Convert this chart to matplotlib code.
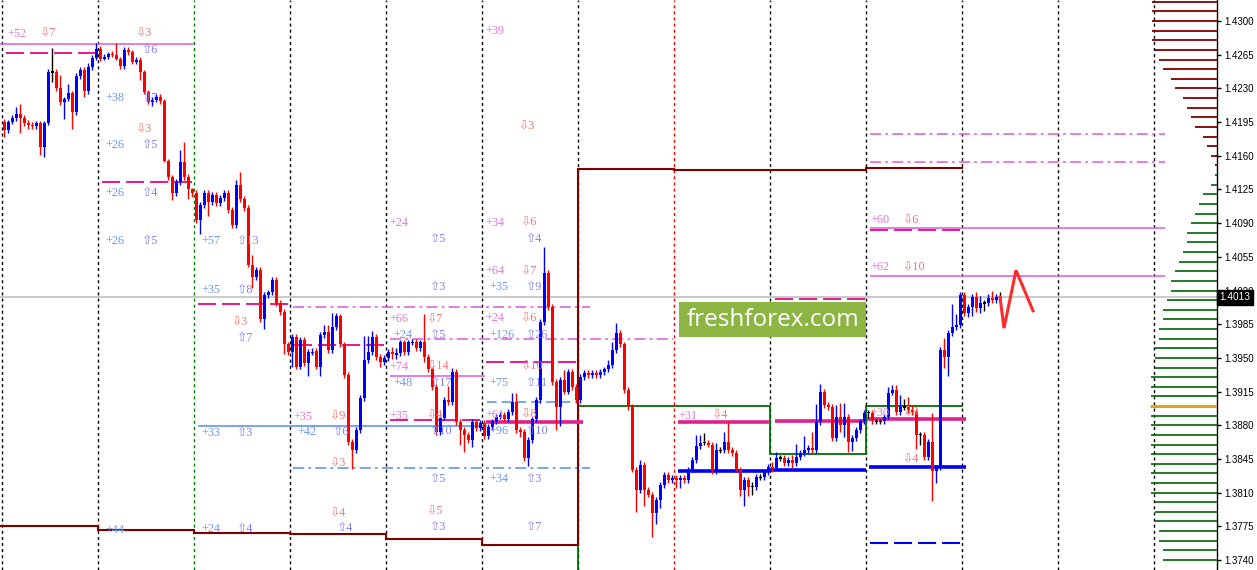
import matplotlib
matplotlib.use("Agg")
import matplotlib.pyplot as plt
import matplotlib.transforms as mtransforms
from matplotlib.patches import Rectangle
import numpy as np

plt.rcParams['lines.scale_dashes'] = False

# ---------------- data (prices in pips: 1/10000) ----------------
first_open = 14195
close_pips = [
    14187, 14195, 14199, 14203, 14199, 14194, 14192, 14191, 14194, 14169, 14194, 14247,
    14247, 14230, 14216, 14219, 14225, 14205, 14243, 14249, 14227, 14252, 14262, 14271,
    14261, 14263, 14266, 14265, 14261, 14253, 14270, 14268, 14257, 14260, 14247, 14226,
    14216, 14218, 14221, 14217, 14155, 14138, 14121, 14133, 14154, 14138, 14125, 14121,
    14093, 14109, 14121, 14112, 14119, 14111, 14116, 14121, 14104, 14088, 14130, 14115,
    14106, 14047, 14034, 14041, 13990, 14015, 14018, 14031, 14007, 13998, 13964, 13956,
    13972, 13941, 13969, 13945, 13956, 13957, 13941, 13974, 13977, 13958, 13982, 13993,
    13964, 13932, 13863, 13854, 13875, 13908, 13948, 13956, 13972, 13951, 13946, 13950,
    13956, 13954, 13955, 13966, 13956, 13966, 13967, 13960, 13966, 13951, 13938, 13920,
    13873, 13888, 13906, 13904, 13935, 13883, 13875, 13870, 13865, 13883, 13877, 13882,
    13869, 13878, 13884, 13889, 13891, 13886, 13894, 13904, 13875, 13873, 13846, 13865,
    13886, 13906, 13987, 14038, 14003, 13925, 13899, 13927, 13915, 13935, 13920, 13906,
    13930, 13934, 13932, 13934, 13932, 13935, 13938, 13943, 13958, 13976, 13964, 13917,
    13899, 13834, 13813, 13839, 13813, 13808, 13789, 13802, 13818, 13828, 13823, 13825,
    13823, 13825, 13823, 13834, 13844, 13858, 13862, 13862, 13860, 13832, 13854, 13854,
    13863, 13854, 13851, 13834, 13813, 13823, 13816, 13816, 13826, 13826, 13831, 13837,
    13836, 13846, 13846, 13841, 13844, 13841, 13847, 13851, 13854, 13856, 13854, 13883,
    13915, 13901, 13899, 13867, 13889, 13880, 13889, 13863, 13867, 13875, 13884, 13893,
    13893, 13884, 13884, 13884, 13889, 13914, 13917, 13894, 13899, 13899, 13896, 13894,
    13870, 13870, 13847, 13863, 13832, 13836, 13958, 13951, 13976, 13982, 13984, 14015,
    13997, 14003, 14013, 14002, 14007, 14007, 14012, 14010, 14013, 14013,
]
wick_up = [
    3, 2, 3, 8, 11, 3, 3, 3, 2, 2, 2, 3, 25, 3, 14, 2, 10, 2, 3, 3, 3, 4, 3, 6,
    3, 3, 2, 3, 12, 2, 3, 3, 2, 3, 3, 2, 2, 3, 3, 3, 2, 2, 2, 3, 12, 20, 3, 2,
    3, 3, 3, 3, 3, 3, 3, 3, 3, 3, 5, 13, 3, 3, 10, 3, 3, 3, 3, 3, 3, 3, 3, 3,
    3, 3, 3, 3, 3, 3, 3, 3, 7, 7, 15, 4, 3, 3, 3, 3, 3, 3, 25, 17, 6, 3, 3, 3,
    3, 5, 5, 3, 3, 3, 3, 3, 3, 30, 3, 3, 3, 3, 3, 15, 4, 3, 3, 3, 3, 3, 3, 3,
    3, 3, 3, 3, 3, 3, 3, 9, 9, 3, 3, 3, 3, 3, 3, 27, 3, 3, 3, 3, 10, 3, 3, 3,
    3, 3, 3, 3, 3, 3, 3, 5, 8, 10, 3, 3, 3, 3, 3, 5, 3, 3, 3, 3, 3, 3, 3, 3,
    3, 3, 3, 3, 3, 12, 8, 10, 3, 3, 8, 3, 10, 20, 3, 3, 3, 3, 3, 5, 3, 3, 3, 3,
    5, 6, 3, 3, 3, 5, 14, 3, 15, 3, 17, 19, 8, 3, 3, 3, 12, 14, 14, 3, 3, 3, 3, 3,
    3, 3, 3, 3, 3, 6, 5, 5, 12, 8, 10, 5, 3, 3, 3, 3, 30, 3, 3, 13, 3, 24, 12, 3,
    3, 3, 3, 5, 7, 3, 4, 7, 3, 5,
]
wick_dn = [
    7, 3, 2, 3, 15, 3, 4, 3, 3, 8, 10, 2, 10, 3, 3, 18, 2, 17, 3, 3, 6, 3, 3, 2,
    3, 2, 2, 2, 2, 3, 3, 3, 2, 2, 8, 2, 2, 4, 2, 3, 2, 3, 7, 3, 3, 3, 10, 4,
    3, 14, 3, 15, 3, 3, 3, 3, 3, 3, 3, 3, 3, 3, 11, 3, 3, 10, 3, 3, 3, 3, 10, 3,
    15, 3, 3, 3, 14, 3, 3, 10, 3, 3, 3, 3, 3, 3, 3, 19, 3, 3, 3, 3, 3, 3, 5, 3,
    3, 5, 5, 3, 3, 3, 3, 3, 3, 5, 3, 3, 3, 3, 3, 3, 3, 3, 15, 18, 3, 8, 3, 3,
    3, 3, 3, 3, 3, 3, 3, 3, 3, 5, 3, 8, 3, 3, 3, 3, 3, 3, 24, 20, 3, 3, 3, 3,
    3, 3, 3, 3, 3, 3, 3, 3, 3, 3, 3, 3, 3, 3, 23, 3, 17, 3, 25, 12, 8, 3, 3, 3,
    8, 8, 3, 3, 3, 3, 3, 3, 3, 3, 3, 3, 3, 3, 3, 3, 7, 17, 10, 8, 3, 3, 3, 3,
    5, 3, 3, 3, 3, 5, 3, 3, 3, 3, 3, 3, 3, 3, 3, 3, 3, 7, 12, 11, 10, 3, 3, 3,
    5, 3, 3, 3, 3, 3, 3, 3, 3, 3, 3, 3, 15, 10, 3, 3, 31, 12, 3, 11, 20, 3, 3, 3,
    3, 5, 10, 4, 5, 8, 3, 3, 3, 5,
]

forecast_bar = [249, 250, 253, 257.25]
forecast_pips = [14013, 13981, 14041, 13999]

bid_price = 1.4013
y_ticks = [1.4300, 1.4265, 1.4230, 1.4195, 1.4160, 1.4125, 1.4090, 1.4055, 1.4020,
           1.3985, 1.3950, 1.3915, 1.3880, 1.3845, 1.3810, 1.3775, 1.3740]

# daily step levels
maroon_levels = [13775, 13771, 13768, 13767, 13762, 13756, 14146, 14145, 14145, 14147]
green_levels = [13700, 13900, 13900, 13850, 13900]   # days 5..9
green_first_day = 5

# horizontal level segments (pips, start bar, end bar)
orchid_solid_p = [14276, 13931, 14085, 14035]
orchid_solid_a = [-1, 96.5, 216.5, 216.5]
orchid_solid_b = [47.5, 120.25, 290.25, 290.25]
orchid_dd_p = [14003, 13970, 14183, 14154]
orchid_dd_a = [72.25, 96.5, 216.5, 216.5]
orchid_dd_b = [146.5, 167.25, 290.25, 290.25]
pink_dash_p = [14267, 14133, 14006, 13963, 13885, 13946, 14011, 14083]
pink_dash_a = [0.5, 24.5, 48.5, 72.5, 96.5, 120.5, 192.75, 216.5]
pink_dash_b = [23, 47, 71.5, 95, 119, 143.5, 215.5, 239]
magenta_p = [13883, 13883, 13884, 13886]
magenta_a = [120.5, 168.5, 192.75, 215.75]
magenta_b = [144.75, 191.5, 215.5, 240.5]
blue_p = [13832, 13834, 13837]
blue_a = [168.5, 191.5, 216.25]
blue_b = [191.5, 215.5, 240.5]
blue_dash_p = [13758]
blue_dash_a = [216.5]
blue_dash_b = [239]
cf_solid_p, cf_solid_a, cf_solid_b = [13879], [48.5], [120.75]
cf_dd_p, cf_dd_a, cf_dd_b = [13836], [72.25], [146.5]
cf_dash_p, cf_dash_a, cf_dash_b = [13904], [120.75], [143.5]

# volume profile (price levels 1.4320 .. 1.3740 every 10 pips)
profile_volume = [65, 65, 65, 65, 65, 62, 58, 54, 46, 42, 34, 30, 26, 22, 14, 10, 6, 2,
                  2, 6, 14, 18, 22, 26, 30, 30, 34, 38, 42, 46, 46, 50, 54, 54, 58, 58,
                  62, 62, 62, 66, 66, 66, 67, 66, 66, 66, 66, 66, 66, 66, 66, 66,
                  62, 62, 62, 58, 58, 54, 54]
profile_sell_count = 18
profile_poc = 1.3900

# labels
lbl_bar = [0.75, 9, 33, 34.5, 25.25, 34.5, 33, 25.25, 34.5, 25.25, 34.5, 25.25, 34.5,
           49.25, 58.25, 49.25, 58.25, 57, 58.25, 96.25, 106.5, 106.5, 120.25, 128.75,
           120.25, 129.25, 130.5, 120.25, 129.25, 121.25, 130.5, 96.25, 105.75, 97.25,
           106.5, 120.25, 129.25, 121.25, 130.5, 129.25, 96.25, 105.75, 97.25, 106.5,
           121.25, 130.5, 72.25, 81.5, 73.25, 82.25, 81.5, 49.25, 58.25, 96.25, 105.75,
           106.5, 120.25, 129.25, 121.25, 130.5, 106.5, 121.25, 130.5, 81.5, 83.25,
           105.75, 106.5, 130.5, 25.25, 49.25, 58.25, 168.5, 177, 216.5, 224.75, 224.75,
           216.5, 224.75, 216.5, 224.75]
lbl_pips = [14287, 14287, 14287, 14270, 14220, 14220, 14187, 14171, 14171, 14121, 14121,
            14071, 14071, 14071, 14071, 14021, 14021, 13987, 13971, 14090, 14074, 14024,
            14290, 14190, 14090, 14090, 14074, 14040, 14040, 14024, 14024, 13990, 13990,
            13974, 13974, 13991, 13991, 13974, 13974, 13941, 13941, 13941, 13924, 13924,
            13924, 13924, 13889, 13889, 13873, 13873, 13840, 13872, 13872, 13890, 13890,
            13874, 13891, 13891, 13874, 13874, 13824, 13824, 13824, 13788, 13773, 13790,
            13774, 13774, 13771, 13772, 13772, 13890, 13890, 13893, 13893, 13844, 14093,
            14093, 14044, 14044]
lbl_text = ["+52", "⇩7", "⇩3", "⇧6", "+38", "⇧7", "⇩3", "+26", "⇧5", "+26", "⇧4",
            "+26", "⇧5", "+57", "⇧13", "+35", "⇧8", "⇩3", "⇧7", "+24", "⇧5", "⇧3",
            "+39", "⇩3", "+34", "⇩6", "⇧4", "+64", "⇩7", "+35", "⇧9", "+66", "⇩7",
            "+24", "⇧5", "+24", "⇩6", "+126", "⇧26", "⇩10", "+74", "⇩14", "+48", "⇧17",
            "+75", "⇧11", "+35", "⇩9", "+42", "⇧6", "⇩3", "+33", "⇧3", "+35", "⇩4",
            "⇧10", "+61", "⇩8", "+96", "⇧10", "⇧5", "+34", "⇧3", "⇩4", "⇧4", "⇩5",
            "⇧3", "⇧7", "+44", "+24", "⇧4", "+31", "⇩4", "+30", "⇩9", "⇩4", "+60",
            "⇩6", "+62", "⇩10"]
lbl_kind = ["p", "d", "d", "u", "b", "u", "d", "b", "u", "b", "u", "b", "u", "b", "u",
            "b", "u", "d", "u", "p", "u", "u", "p", "d", "p", "d", "u", "p", "d", "b",
            "u", "p", "d", "b", "u", "p", "d", "b", "u", "d", "p", "d", "b", "u", "b",
            "u", "p", "d", "b", "u", "d", "b", "u", "p", "d", "u", "p", "d", "b", "u",
            "u", "b", "u", "d", "u", "d", "u", "u", "b", "b", "u", "p", "d", "p", "d",
            "d", "p", "d", "p", "d"]

# ---------------- figure ----------------
W, H = 1257, 570
fig = plt.figure(figsize=(W / 100, H / 100), dpi=100)
fig.patch.set_facecolor('white')
ax = fig.add_axes([0, 0, 1217 / W, 1])
ax.set_xlim(-1, 303.25)
ax.set_ylim(1.372961, 1.432182)
for s in ['left', 'top', 'bottom']:
    ax.spines[s].set_visible(False)
ax.spines['right'].set_color('black')
ax.spines['right'].set_linewidth(1)
ax.set_xticks([])
ax.yaxis.tick_right()
ax.set_yticks(y_ticks)
ax.set_yticklabels([f"{t:.4f}" for t in y_ticks])
ax.tick_params(axis='y', length=3, width=1, pad=2, labelsize=7,
               labelfontfamily='Liberation Sans', colors='black')

P = lambda v: np.asarray(v, dtype=float) / 1e4

# day separators
for k in range(13):
    xk = -0.5 + 24 * k
    c = '#008000' if k == 2 else ('#ff0000' if k == 7 else 'black')
    ax.axvline(xk, color=c, lw=1, ls=(0, (2.2, 2.2)), zorder=1)

# bid line
ax.axhline(bid_price, color='#c0c0c0', lw=1.2, zorder=2)

def segs(p, a, b, **kw):
    ax.hlines(P(p), a, b, **kw)

segs(orchid_solid_p, orchid_solid_a, orchid_solid_b, colors='#e066dc', lw=1.2, zorder=3)
segs(orchid_dd_p, orchid_dd_a, orchid_dd_b, colors='#e066dc', lw=1.2,
     linestyles=[(0, (8, 3, 2, 3))], zorder=3)
segs(pink_dash_p, pink_dash_a, pink_dash_b, colors='#e8188c', lw=1.4,
     linestyles=[(0, (13, 4.3))], zorder=3)
segs(cf_solid_p, cf_solid_a, cf_solid_b, colors='#6495ed', lw=1.2, zorder=3)
segs(cf_dd_p, cf_dd_a, cf_dd_b, colors='#6495ed', lw=1.2,
     linestyles=[(0, (8, 3, 2, 3))], zorder=3)
segs(cf_dash_p, cf_dash_a, cf_dash_b, colors='#6495ed', lw=1.2,
     linestyles=[(0, (7, 3.6))], zorder=3)
segs(blue_dash_p, blue_dash_a, blue_dash_b, colors='#0000ff', lw=1.5,
     linestyles=[(0, (13, 4.3))], zorder=3)

# step lines
def step_line(levels, first_day, color, lw):
    xs, ys = [], []
    for j, lv in enumerate(levels):
        d = first_day + j
        a = -1 if d == 0 else -0.5 + 24 * d
        b = -0.5 + 24 * (d + 1)
        xs += [a, b]
        ys += [lv / 1e4, lv / 1e4]
    ax.plot(xs, ys, color=color, lw=lw, zorder=4, solid_joinstyle='miter')

step_line(green_levels, green_first_day, '#007000', 1.3)
step_line(maroon_levels, 0, '#800000', 1.5)

segs(magenta_p, magenta_a, magenta_b, colors='#e0208e', lw=2.6, zorder=4)
segs(blue_p, blue_a, blue_b, colors='#0000ff', lw=2.6, zorder=4)

# candles
closes = P(close_pips)
opens = np.concatenate([[first_open / 1e4], closes[:-1]])
highs = np.maximum(opens, closes) + P(wick_up)
lows = np.minimum(opens, closes) - P(wick_dn)
xb = np.arange(len(closes))
cols = np.where(closes > opens + 1e-9, '#0000ff',
                np.where(closes < opens - 1e-9, '#ff0000', '#000000'))
ax.vlines(xb, lows, highs, colors=cols, lw=1, zorder=5)
bh = np.abs(closes - opens)
flat = bh < 0.00012
bottoms = np.minimum(opens, closes) - np.where(flat, 0.00006, 0)
bh = np.where(flat, 0.00012, bh)
ax.bar(xb, bh, bottom=bottoms, width=0.75, color=cols, linewidth=0, zorder=6)

# forecast zigzag
ax.plot(forecast_bar, P(forecast_pips), color='#ff2a2a', lw=2.2, zorder=7,
        solid_joinstyle='miter')

# labels
kind_color = {'p': '#e07ad4', 'b': '#6f98ee', 'd': '#f07878', 'u': '#8080ff'}
for bx, pp, t, k in zip(lbl_bar, lbl_pips, lbl_text, lbl_kind):
    ax.text(bx, pp / 1e4, t, color=kind_color[k], fontsize=8.8, ha='left', va='center',
            family=['Liberation Serif', 'DejaVu Sans'], zorder=7)

# volume profile at right edge
prof_prices = np.round(1.4320 - 0.0010 * np.arange(len(profile_volume)), 4)
xr = 303.25
for j, (pr, v) in enumerate(zip(prof_prices, profile_volume)):
    if abs(pr - profile_poc) < 1e-6:
        c, lw = '#daa520', 2.2
    elif j < profile_sell_count:
        c, lw = '#800000', 1.3
    else:
        c, lw = '#006400', 1.2
    ax.hlines(pr, xr - v / 4, xr, colors=c, lw=lw, zorder=3)

# current price tag
tr = mtransforms.blended_transform_factory(ax.transAxes, ax.transData)
ax.text(1.002, bid_price, f"{bid_price:.4f}", transform=tr, color='white', fontsize=7.3,
        family='Liberation Sans', ha='left', va='center', clip_on=False, zorder=20,
        bbox=dict(facecolor='black', edgecolor='black', pad=1.8))

# watermark
fig.patches.append(Rectangle((679 / W, 1 - 337 / H), 187 / W, 35 / H,
                             transform=fig.transFigure, facecolor='#8db543',
                             edgecolor='none', zorder=30))
fig.text(772.5 / W, 1 - 320 / H, 'freshforex.com', color='white', fontsize=17.5,
         family='Open Sans', ha='center', va='center', zorder=31)

fig.savefig('out.png', dpi=100)
